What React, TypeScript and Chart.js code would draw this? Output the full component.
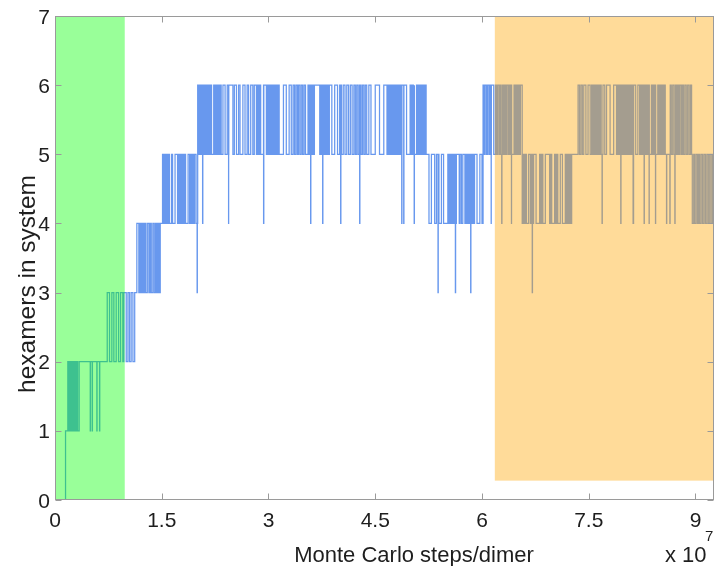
import React, { useEffect, useRef } from "react";
import { Chart, registerables } from "chart.js";

Chart.register(...registerables);

// ---- axes ----
const X_MIN = 0;
const X_MAX = 9.26; // in units of 1e7 MC steps/dimer
const Y_MIN = 0;
const Y_MAX = 7;
const xTicks = [0, 1.5, 3, 4.5, 6, 7.5, 9];
const xTickLabels = ["0", "1.5", "3", "4.5", "6", "7.5", "9"];
const yTicks = [0, 1, 2, 3, 4, 5, 6, 7];
const yTickLabels = ["0", "1", "2", "3", "4", "5", "6", "7"];
const xTitle = "Monte Carlo steps/dimer";
const yTitle = "hexamers in system";
const xExponentBase = "x 10";
const xExponent = "7";

// ---- shaded windows [x0, x1, y0, y1] ----
const greenWindow = [0, 0.98, 0, 7];
const orangeWindow = [6.18, 9.26, 0.28, 7];

// ---- trajectory: value at start, then toggle bands (times where the count switches) ----
const startLevel = 0;
const rise01 = [0.148];
const band12 = [0.18, 0.197, 0.211, 0.225, 0.239, 0.25, 0.263, 0.274, 0.285, 0.297, 0.308, 0.319, 0.34];
const band23 = [0.734, 0.766, 0.799, 0.827, 0.86, 0.893, 0.921, 0.953, 0.967, 1.001, 1.025, 1.047, 1.07, 1.095, 1.12];
const band34 = [1.15, 1.178, 1.195, 1.212, 1.228, 1.244, 1.26, 1.275, 1.297, 1.319, 1.336, 1.353, 1.375, 1.394, 1.413, 1.428, 1.445, 1.462, 1.479];
const band45a = [
  1.511, 1.525, 1.539, 1.553, 1.567, 1.581, 1.595, 1.609, 1.638, 1.652, 1.687, 1.722, 1.736, 1.75,
  1.764, 1.778, 1.793, 1.807, 1.821, 1.835, 1.87, 1.891, 1.905, 1.919, 1.933, 1.947, 1.961, 1.982,
];
const band56a = [
  2.005, 2.02, 2.035, 2.05, 2.065, 2.08, 2.095, 2.11, 2.125, 2.14, 2.155, 2.17, 2.185, 2.2,
  2.23, 2.245, 2.26, 2.275, 2.29, 2.305, 2.32, 2.335, 2.36,
  2.39, 2.42, 2.44, 2.47, 2.5, 2.52, 2.55, 2.58, 2.6,
  2.64, 2.67, 2.7, 2.72, 2.75, 2.78, 2.8,
  2.83, 2.845, 2.86, 2.875, 2.89, 2.93,
  2.97, 2.985, 3.0, 3.015, 3.03, 3.045, 3.06, 3.075, 3.09, 3.105, 3.12, 3.135, 3.15,
  3.21, 3.25, 3.29, 3.32,
  3.345, 3.365, 3.385, 3.405, 3.42, 3.44, 3.46, 3.48, 3.5, 3.52,
  3.555, 3.57, 3.585, 3.6, 3.615, 3.63, 3.645,
  3.72, 3.735, 3.75, 3.765, 3.78, 3.795, 3.81, 3.825, 3.84, 3.855,
  3.89, 3.93, 3.97,
  4.0, 4.025, 4.05, 4.075, 4.1, 4.125, 4.15, 4.175,
  4.2, 4.22, 4.24, 4.26, 4.28, 4.3, 4.32, 4.34, 4.36, 4.38,
  4.41, 4.44, 4.5, 4.56, 4.62,
  4.665, 4.68, 4.695, 4.71, 4.725, 4.74, 4.755, 4.77, 4.785, 4.8, 4.815, 4.83, 4.845, 4.86, 4.875, 4.89,
  4.94,
  4.99, 5.005, 5.02, 5.035, 5.05, 5.065, 5.08, 5.095, 5.11, 5.125, 5.14, 5.155, 5.17, 5.185, 5.2, 5.215,
];
const band45b = [
  5.255, 5.289, 5.335, 5.36, 5.395, 5.43, 5.46, 5.52, 5.535, 5.55, 5.565, 5.58, 5.595, 5.61, 5.625,
  5.64, 5.68, 5.69, 5.71, 5.73, 5.76, 5.775, 5.79, 5.805, 5.82, 5.835, 5.85, 5.865, 5.88, 5.895,
  5.93, 5.97, 6.0,
];
const band56b = [
  6.015, 6.03, 6.045, 6.065, 6.08, 6.1, 6.115, 6.13, 6.15, 6.165, 6.19, 6.205, 6.22, 6.24, 6.255,
  6.27, 6.29, 6.305, 6.32, 6.335, 6.35, 6.37, 6.385, 6.4, 6.415, 6.43, 6.45, 6.465, 6.48, 6.495,
  6.51, 6.525, 6.54,
];
const band45c = [
  6.565, 6.58, 6.595, 6.61, 6.625, 6.655, 6.68, 6.695, 6.71, 6.725, 6.76, 6.81, 6.825, 6.84, 6.855,
  6.89, 6.95, 6.965, 6.98, 7.02, 7.035, 7.05, 7.065, 7.1, 7.13, 7.17, 7.185, 7.2, 7.215, 7.23,
  7.245, 7.26,
];
const band56c = [
  7.35, 7.37, 7.39, 7.41, 7.43, 7.46, 7.49, 7.52, 7.54, 7.555, 7.57, 7.585, 7.6, 7.615, 7.63, 7.645,
  7.66, 7.675, 7.7, 7.725, 7.75, 7.8, 7.85, 7.89, 7.905, 7.92, 7.935, 7.95, 7.965, 7.98, 7.995,
  8.01, 8.025, 8.04, 8.055, 8.07, 8.085, 8.1, 8.115, 8.13, 8.145, 8.16, 8.19, 8.215, 8.23, 8.245,
  8.26, 8.275, 8.29, 8.305, 8.32, 8.335, 8.35, 8.365, 8.38, 8.395, 8.41, 8.425, 8.44, 8.455, 8.47,
  8.485, 8.5, 8.515, 8.53, 8.545, 8.56, 8.575,
];
const band56d = [
  8.645, 8.66, 8.68, 8.7, 8.72, 8.735, 8.75, 8.765, 8.78, 8.8, 8.815, 8.83, 8.85, 8.87, 8.89, 8.91,
  8.93, 8.945,
];
const band45d = [
  8.955, 8.975, 8.99, 9.01, 9.03, 9.045, 9.06, 9.08, 9.1, 9.12, 9.14, 9.16, 9.18, 9.2, 9.22, 9.24,
  9.255,
];
// brief single excursions (down to the given level and straight back)
const spikesTo1 = [0.495, 0.523, 0.588, 0.626];
const spikesTo3 = [1.997, 5.382, 5.626, 5.841, 6.706];
const spikesTo4 = [
  2.074, 2.439, 2.931, 3.592, 3.761, 4.014, 4.281, 4.872, 4.9, 5.047, 6.129, 6.277, 6.414, 7.687,
  7.95, 8.123, 8.128, 8.278, 8.348, 8.438, 8.593, 8.64, 8.71,
];

// [level entered at first time, alternate level, switch times]
const bands: [number, number, number[]][] = [
  [1, 0, rise01],
  [2, 1, band12],
  [3, 2, band23],
  [4, 3, band34],
  [5, 4, band45a],
  [6, 5, band56a],
  [4, 5, band45b],
  [6, 5, band56b],
  [4, 5, band45c],
  [6, 5, band56c],
  [6, 5, band56d],
  [4, 5, band45d],
];
const spikes: [number, number[]][] = [
  [1, spikesTo1],
  [3, spikesTo3],
  [4, spikesTo4],
];

function buildSeries() {
  const ev: { x: number; y: number }[] = [{ x: X_MIN, y: startLevel }];
  bands.forEach(([first, other, times]) =>
    times.forEach((t, i) => ev.push({ x: t, y: i % 2 === 0 ? first : other }))
  );
  ev.sort((a, b) => a.x - b.x);
  const valueAt = (t: number) => {
    let v = startLevel;
    for (const e of ev) {
      if (e.x <= t) v = e.y;
      else break;
    }
    return v;
  };
  const extra: { x: number; y: number }[] = [];
  spikes.forEach(([level, times]) =>
    times.forEach((t) => {
      const v = valueAt(t);
      extra.push({ x: t, y: level }, { x: t + 0.003, y: v });
    })
  );
  const all = ev.concat(extra).sort((a, b) => a.x - b.x);
  all.push({ x: X_MAX, y: all[all.length - 1].y });
  return all;
}

const FONT = "'Liberation Sans', Arial, Helvetica, sans-serif";
const TEXT = "#1e1e1e";
const AXIS = "#9a9a9a";

const decorPlugin = {
  id: "decor",
  afterDatasetsDraw(chart: any) {
    const { ctx, chartArea: a, scales } = chart;
    const xs = scales.x;
    const ys = scales.y;
    ctx.save();
    ctx.beginPath();
    ctx.rect(a.left, a.top, a.right - a.left, a.bottom - a.top);
    ctx.clip();
    const fillWin = (w: number[], color: string) => {
      const x0 = xs.getPixelForValue(w[0]);
      const x1 = xs.getPixelForValue(w[1]);
      const y0 = ys.getPixelForValue(w[2]);
      const y1 = ys.getPixelForValue(w[3]);
      ctx.fillStyle = color;
      ctx.fillRect(x0, y1, x1 - x0, y0 - y1);
    };
    fillWin(greenWindow, "rgba(0,255,0,0.4)");
    fillWin(orangeWindow, "rgba(255,165,0,0.4)");
    ctx.restore();
  },
  afterDraw(chart: any) {
    const { ctx, chartArea: a, scales } = chart;
    const xs = scales.x;
    const ys = scales.y;
    const L = Math.round(a.left) + 0.5;
    const R = Math.round(a.right) - 0.5;
    const T = Math.round(a.top) + 0.5;
    const B = Math.round(a.bottom) - 0.5;
    ctx.save();
    ctx.strokeStyle = AXIS;
    ctx.lineWidth = 1;
    ctx.strokeRect(L, T, R - L, B - T);
    const tl = 6;
    ctx.beginPath();
    xTicks.forEach((v) => {
      const px = Math.round(xs.getPixelForValue(v)) + 0.5;
      ctx.moveTo(px, B);
      ctx.lineTo(px, B - tl);
      ctx.moveTo(px, T);
      ctx.lineTo(px, T + tl);
    });
    yTicks.forEach((v) => {
      const py = Math.round(ys.getPixelForValue(v)) + 0.5;
      ctx.moveTo(L, py);
      ctx.lineTo(L + tl, py);
      ctx.moveTo(R, py);
      ctx.lineTo(R - tl, py);
    });
    ctx.stroke();

    ctx.fillStyle = TEXT;
    ctx.font = `21px ${FONT}`;
    ctx.textBaseline = "alphabetic";
    ctx.textAlign = "center";
    xTicks.forEach((v, i) => {
      ctx.fillText(xTickLabels[i], xs.getPixelForValue(v), a.bottom + 27);
    });
    ctx.textAlign = "right";
    yTicks.forEach((v, i) => {
      ctx.fillText(yTickLabels[i], a.left - 5, ys.getPixelForValue(v) + 7.5);
    });

    ctx.font = `22px ${FONT}`;
    ctx.textAlign = "center";
    ctx.fillText(xTitle, 414, 562);
    ctx.textAlign = "left";
    ctx.fillText(xExponentBase, 665, 562);
    ctx.font = `15px ${FONT}`;
    ctx.fillText(xExponent, 705, 541);

    ctx.font = `24.5px ${FONT}`;
    ctx.translate(35, 284);
    ctx.rotate(-Math.PI / 2);
    ctx.textAlign = "center";
    ctx.fillText(yTitle, 0, 0);
    ctx.restore();
  },
};

export default function App() {
  const ref = useRef<HTMLCanvasElement | null>(null);
  useEffect(() => {
    if (!ref.current) return;
    const data = buildSeries();
    const chart = new Chart(ref.current, {
      type: "line",
      data: {
        datasets: [
          {
            data,
            parsing: false,
            stepped: "before",
            borderColor: "rgb(104,152,238)",
            borderWidth: 1.25,
            pointRadius: 0,
            fill: false,
            tension: 0,
          } as any,
        ],
      },
      options: {
        responsive: false,
        animation: false,
        layout: { padding: { left: 55, top: 16, right: 3, bottom: 66 } },
        plugins: { legend: { display: false }, tooltip: { enabled: false } },
        scales: {
          x: { type: "linear", min: X_MIN, max: X_MAX, display: false },
          y: { type: "linear", min: Y_MIN, max: Y_MAX, display: false },
        },
      },
      plugins: [decorPlugin],
    });
    return () => chart.destroy();
  }, []);
  return (
    <div style={{ position: "fixed", left: 0, top: 0, width: 717, height: 566, background: "#fff" }}>
      <canvas ref={ref} width={717} height={566} style={{ display: "block" }} />
    </div>
  );
}
